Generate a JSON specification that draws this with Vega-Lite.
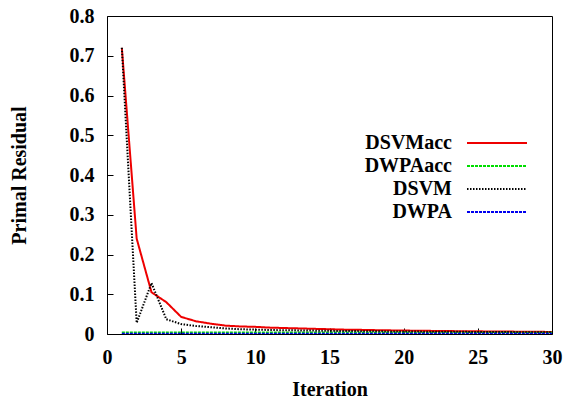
{
  "$schema": "https://vega.github.io/schema/vega-lite/v6.json",
  "width": 445,
  "height": 318,
  "autosize": {"type": "none"},
  "padding": {"left": 107, "top": 16, "right": 16, "bottom": 64},
  "background": "white",
  "config": {
    "view": {"stroke": "#000", "strokeWidth": 1},
    "font": "Liberation Serif",
    "axis": {
      "grid": false,
      "domain": false,
      "tickColor": "#000",
      "tickSize": -6,
      "labelFlush": false,
      "labelFont": "Liberation Serif",
      "labelFontWeight": "bold",
      "labelFontSize": 20,
      "labelColor": "#000",
      "titleFont": "Liberation Serif",
      "titleFontWeight": "bold",
      "titleFontSize": 20,
      "titleColor": "#000"
    }
  },
  "data": {"values": [
    {"it":1,"s":"DSVMacc","v":0.72},{"it":2,"s":"DSVMacc","v":0.24},{"it":3,"s":"DSVMacc","v":0.105},{"it":4,"s":"DSVMacc","v":0.08},{"it":5,"s":"DSVMacc","v":0.043},{"it":6,"s":"DSVMacc","v":0.032},{"it":7,"s":"DSVMacc","v":0.026},{"it":8,"s":"DSVMacc","v":0.021},{"it":9,"s":"DSVMacc","v":0.019},{"it":10,"s":"DSVMacc","v":0.018},{"it":11,"s":"DSVMacc","v":0.016},{"it":12,"s":"DSVMacc","v":0.015},{"it":13,"s":"DSVMacc","v":0.014},{"it":14,"s":"DSVMacc","v":0.013},{"it":15,"s":"DSVMacc","v":0.012},{"it":16,"s":"DSVMacc","v":0.011},{"it":17,"s":"DSVMacc","v":0.0105},{"it":18,"s":"DSVMacc","v":0.0098},{"it":19,"s":"DSVMacc","v":0.0092},{"it":20,"s":"DSVMacc","v":0.0087},{"it":21,"s":"DSVMacc","v":0.0082},{"it":22,"s":"DSVMacc","v":0.0078},{"it":23,"s":"DSVMacc","v":0.0074},{"it":24,"s":"DSVMacc","v":0.007},{"it":25,"s":"DSVMacc","v":0.0067},{"it":26,"s":"DSVMacc","v":0.0064},{"it":27,"s":"DSVMacc","v":0.0061},{"it":28,"s":"DSVMacc","v":0.0058},{"it":29,"s":"DSVMacc","v":0.0055},{"it":30,"s":"DSVMacc","v":0.0052},
    {"it":1,"s":"DWPAacc","v":0.004},{"it":2,"s":"DWPAacc","v":0.0038},{"it":3,"s":"DWPAacc","v":0.0037},{"it":4,"s":"DWPAacc","v":0.0036},{"it":5,"s":"DWPAacc","v":0.0036},{"it":6,"s":"DWPAacc","v":0.0035},{"it":7,"s":"DWPAacc","v":0.0035},{"it":8,"s":"DWPAacc","v":0.0035},{"it":9,"s":"DWPAacc","v":0.0035},{"it":10,"s":"DWPAacc","v":0.0035},{"it":11,"s":"DWPAacc","v":0.0035},{"it":12,"s":"DWPAacc","v":0.0035},{"it":13,"s":"DWPAacc","v":0.0035},{"it":14,"s":"DWPAacc","v":0.0035},{"it":15,"s":"DWPAacc","v":0.0035},{"it":16,"s":"DWPAacc","v":0.0035},{"it":17,"s":"DWPAacc","v":0.0035},{"it":18,"s":"DWPAacc","v":0.0035},{"it":19,"s":"DWPAacc","v":0.0035},{"it":20,"s":"DWPAacc","v":0.0035},{"it":21,"s":"DWPAacc","v":0.0034},{"it":22,"s":"DWPAacc","v":0.0034},{"it":23,"s":"DWPAacc","v":0.0034},{"it":24,"s":"DWPAacc","v":0.0033},{"it":25,"s":"DWPAacc","v":0.0033},{"it":26,"s":"DWPAacc","v":0.0032},{"it":27,"s":"DWPAacc","v":0.0032},{"it":28,"s":"DWPAacc","v":0.0031},{"it":29,"s":"DWPAacc","v":0.003},{"it":30,"s":"DWPAacc","v":0.003},
    {"it":1,"s":"DSVM","v":0.72},{"it":2,"s":"DSVM","v":0.028},{"it":3,"s":"DSVM","v":0.128},{"it":4,"s":"DSVM","v":0.037},{"it":5,"s":"DSVM","v":0.025},{"it":6,"s":"DSVM","v":0.02},{"it":7,"s":"DSVM","v":0.017},{"it":8,"s":"DSVM","v":0.014},{"it":9,"s":"DSVM","v":0.012},{"it":10,"s":"DSVM","v":0.011},{"it":11,"s":"DSVM","v":0.01},{"it":12,"s":"DSVM","v":0.0095},{"it":13,"s":"DSVM","v":0.009},{"it":14,"s":"DSVM","v":0.0085},{"it":15,"s":"DSVM","v":0.008},{"it":16,"s":"DSVM","v":0.0076},{"it":17,"s":"DSVM","v":0.0072},{"it":18,"s":"DSVM","v":0.0068},{"it":19,"s":"DSVM","v":0.0065},{"it":20,"s":"DSVM","v":0.0062},{"it":21,"s":"DSVM","v":0.006},{"it":22,"s":"DSVM","v":0.0058},{"it":23,"s":"DSVM","v":0.0056},{"it":24,"s":"DSVM","v":0.0054},{"it":25,"s":"DSVM","v":0.0052},{"it":26,"s":"DSVM","v":0.005},{"it":27,"s":"DSVM","v":0.0048},{"it":28,"s":"DSVM","v":0.0046},{"it":29,"s":"DSVM","v":0.0045},{"it":30,"s":"DSVM","v":0.0044},
    {"it":1,"s":"DWPA","v":0.0006},{"it":2,"s":"DWPA","v":0.0006},{"it":3,"s":"DWPA","v":0.0006},{"it":4,"s":"DWPA","v":0.0006},{"it":5,"s":"DWPA","v":0.0006},{"it":6,"s":"DWPA","v":0.0006},{"it":7,"s":"DWPA","v":0.0006},{"it":8,"s":"DWPA","v":0.0006},{"it":9,"s":"DWPA","v":0.0006},{"it":10,"s":"DWPA","v":0.0006},{"it":11,"s":"DWPA","v":0.0006},{"it":12,"s":"DWPA","v":0.0006},{"it":13,"s":"DWPA","v":0.0006},{"it":14,"s":"DWPA","v":0.0006},{"it":15,"s":"DWPA","v":0.0006},{"it":16,"s":"DWPA","v":0.0006},{"it":17,"s":"DWPA","v":0.0006},{"it":18,"s":"DWPA","v":0.0006},{"it":19,"s":"DWPA","v":0.0006},{"it":20,"s":"DWPA","v":0.0006},{"it":21,"s":"DWPA","v":0.0006},{"it":22,"s":"DWPA","v":0.0006},{"it":23,"s":"DWPA","v":0.0006},{"it":24,"s":"DWPA","v":0.0006},{"it":25,"s":"DWPA","v":0.0006},{"it":26,"s":"DWPA","v":0.0006},{"it":27,"s":"DWPA","v":0.0006},{"it":28,"s":"DWPA","v":0.0006},{"it":29,"s":"DWPA","v":0.0006},{"it":30,"s":"DWPA","v":0.0006}
  ]},
  "mark": {"type": "line", "strokeWidth": 2, "clip": true},
  "encoding": {
    "x": {"field": "it", "type": "quantitative", "title": "Iteration",
          "scale": {"domain": [0, 30], "nice": false},
          "axis": {"values": [0,5,10,15,20,25,30], "labelPadding": 19, "titlePadding": 12}},
    "y": {"field": "v", "type": "quantitative", "title": "Primal Residual",
          "scale": {"domain": [0, 0.8], "nice": false},
          "axis": {"values": [0,0.1,0.2,0.3,0.4,0.5,0.6,0.7,0.8], "format": "~g", "labelPadding": 19, "titlePadding": 40}},
    "color": {"field": "s", "type": "nominal", "title": null,
      "scale": {"domain": ["DSVMacc","DWPAacc","DSVM","DWPA"], "range": ["#ee0000","#00dd00","#000000","#0000ee"]},
      "legend": {"orient": "none", "legendX": 359, "legendY": 116, "symbolType": "M-1,0H5", "symbolSize": 400, "symbolStrokeWidth": 2, "symbolFillColor": "transparent",
        "labelAlign": "right", "labelOffset": -36, "labelFont": "Liberation Serif", "labelFontWeight": "bold", "labelFontSize": 20, "labelColor": "#000", "rowPadding": 2, "padding": 0}},
    "strokeDash": {"field": "s", "type": "nominal", "title": null,
      "scale": {"domain": ["DSVMacc","DWPAacc","DSVM","DWPA"], "range": [[1,0],[3,1],[1.5,1.5],[3,1]]},
      "legend": null}
  }
}
